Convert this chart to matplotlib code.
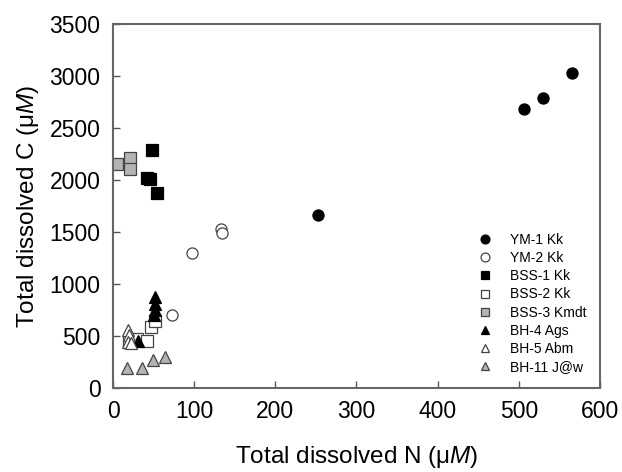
import matplotlib
matplotlib.use('Agg')
import matplotlib.pyplot as plt

plt.rcParams['font.family'] = ['Liberation Sans', 'DejaVu Sans']
plt.rcParams['mathtext.fontset'] = 'custom'
plt.rcParams['mathtext.rm'] = 'Liberation Sans'
plt.rcParams['mathtext.it'] = 'Liberation Sans:italic'

# data: (total dissolved N, total dissolved C), in uM
ym1_n = [252, 506, 530, 565]
ym1_c = [1665, 2680, 2790, 3030]
ym2_n = [73, 97, 133, 134]
ym2_c = [700, 1300, 1530, 1490]
bss1_n = [42, 46, 48, 54]
bss1_c = [2020, 2010, 2290, 1880]
bss2_n = [20, 30, 42, 47, 52]
bss2_c = [440, 470, 450, 590, 645]
bss3_n = [5, 21, 21]
bss3_c = [2150, 2210, 2110]
bh4_n = [31, 52, 52, 52, 51]
bh4_c = [450, 875, 810, 750, 700]
bh5_n = [18, 20, 18, 22]
bh5_c = [560, 510, 445, 430]
bh11_n = [17, 36, 49, 64]
bh11_c = [190, 190, 265, 300]

series = [
    ('YM-1 Kk', ym1_n, ym1_c, 'o', 'black'),
    ('YM-2 Kk', ym2_n, ym2_c, 'o', 'white'),
    ('BSS-1 Kk', bss1_n, bss1_c, 's', 'black'),
    ('BSS-2 Kk', bss2_n, bss2_c, 's', 'white'),
    ('BSS-3 Kmdt', bss3_n, bss3_c, 's', '#b4b4b4'),
    ('BH-4 Ags', bh4_n, bh4_c, '^', 'black'),
    ('BH-5 Abm', bh5_n, bh5_c, '^', 'white'),
    ('BH-11 J@w', bh11_n, bh11_c, '^', '#b4b4b4'),
]

fig = plt.figure(figsize=(6.22, 4.72), dpi=100)
ax = fig.add_axes([0.1817, 0.178, 0.7829, 0.771])

for name, xs, ys, mk, fc in series:
    ax.plot(xs, ys, linestyle='none', marker=mk, markersize=8,
            markerfacecolor=fc, markeredgecolor='black' if fc == 'black' else '#444444',
            markeredgewidth=0.9, label=name)

ax.set_xlim(0, 600)
ax.set_ylim(0, 3500)
ax.set_xticks(range(0, 601, 100))
ax.set_yticks(range(0, 3501, 500))
ax.tick_params(direction='in', length=5, width=1, labelsize=16.5, colors='#555555',
               labelcolor='black')
ax.tick_params(axis='x', pad=9)
ax.tick_params(axis='y', pad=9)
for s in ax.spines.values():
    s.set_color('#666666')
    s.set_linewidth(1.5)

ax.set_xlabel(r'Total dissolved N (μ$\it{M}$)', fontsize=17.5, labelpad=15)
ax.set_ylabel(r'Total dissolved C (μ$\it{M}$)', fontsize=17.5, labelpad=6)

leg = ax.legend(loc='lower right', bbox_to_anchor=(1.0, 0.0), frameon=False,
                fontsize=10, markerscale=0.8, handlelength=1.0, handletextpad=1.3,
                labelspacing=0.3, borderaxespad=0.6)
leg.set_zorder(1)

fig.savefig('out.png', dpi=100)
